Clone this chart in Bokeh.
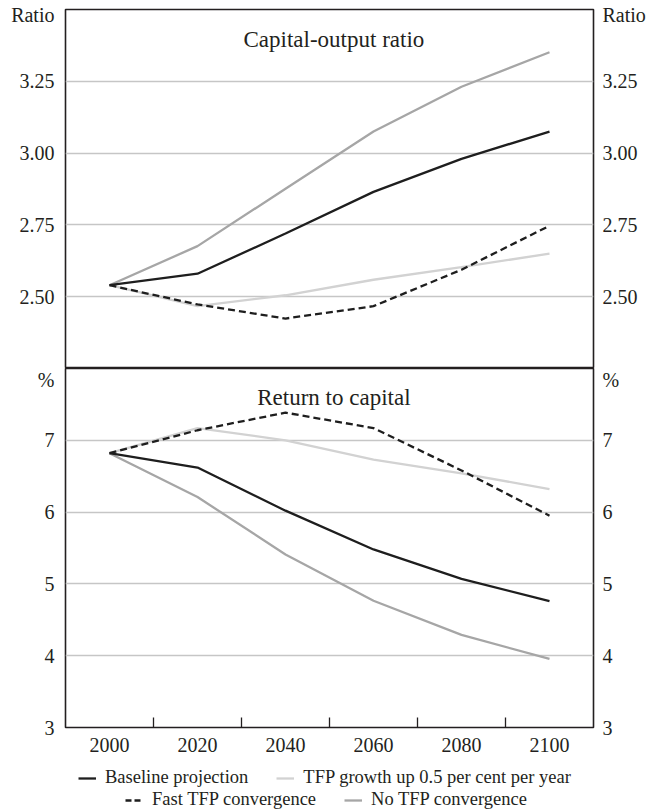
from bokeh.plotting import figure
from bokeh.models import (FixedTicker, Label, Legend, LegendItem, LinearAxis,
                          Range1d, Grid, NumeralTickFormatter)
from bokeh.layouts import column
from bokeh.embed import file_html
from bokeh.resources import INLINE

# ---------------- data ----------------
years = [2000, 2020, 2040, 2060, 2080, 2100]
x_tick_labels = [2000, 2020, 2040, 2060, 2080, 2100]

cap_baseline = [2.54, 2.58, 2.72, 2.865, 2.98, 3.075]
cap_tfp_up = [2.54, 2.467, 2.505, 2.559, 2.603, 2.65]
cap_fast = [2.54, 2.473, 2.424, 2.467, 2.594, 2.747]
cap_no_tfp = [2.54, 2.676, 2.876, 3.075, 3.231, 3.351]

ret_baseline = [6.82, 6.62, 6.02, 5.48, 5.07, 4.76]
ret_tfp_up = [6.82, 7.17, 7.0, 6.73, 6.54, 6.32]
ret_fast = [6.82, 7.14, 7.385, 7.17, 6.58, 5.95]
ret_no_tfp = [6.82, 6.21, 5.41, 4.765, 4.29, 3.955]

cap_ticks = [2.50, 2.75, 3.00, 3.25]
ret_ticks = [3, 4, 5, 6, 7]

series_names = ["Baseline projection", "TFP growth up 0.5 per cent per year",
                "Fast TFP convergence", "No TFP convergence"]

# ---------------- style ----------------
FONT = "Liberation Serif"
INK = "#231f20"
C_BASE = "#1e1e1e"
C_UP = "#d2d2d2"
C_NO = "#a6a6a6"
GRID = "#c6c6c6"
LW = 2.3
DASH = "7 4"

CAP_UNIT_POS = 3.481
RET_UNIT_POS = 7.90


def style_yaxis(ax):
    ax.major_tick_in = 0
    ax.major_tick_out = 0
    ax.minor_tick_in = 0
    ax.minor_tick_out = 0
    ax.axis_line_color = None
    ax.major_label_text_font = FONT
    ax.major_label_text_font_size = "20px"
    ax.major_label_text_color = INK


def make_panel(y0, y1, ticks, unit, unit_pos, fmt, top_border, bottom_border):
    p = figure(frame_width=528, frame_height=359,
               x_range=Range1d(1990, 2110), y_range=Range1d(y0, y1),
               x_axis_location=None, y_axis_location=None,
               output_backend="svg", toolbar_location=None,
               min_border_left=65, min_border_right=52,
               min_border_top=top_border, min_border_bottom=bottom_border,
               background_fill_color="white", border_fill_color="white")
    p.outline_line_color = INK
    p.outline_line_width = 1.6
    p.outline_line_alpha = 1.0
    p.grid.visible = False
    overrides = {float(unit_pos): unit}
    for side, standoff in (("left", 11), ("right", 9)):
        ax = LinearAxis(ticker=FixedTicker(ticks=list(ticks) + [unit_pos]),
                        formatter=NumeralTickFormatter(format=fmt))
        ax.major_label_overrides = overrides
        ax.major_label_standoff = standoff
        style_yaxis(ax)
        p.add_layout(ax, side)
    g = Grid(dimension=1, ticker=FixedTicker(ticks=list(ticks)),
             grid_line_color=GRID, grid_line_width=1.6)
    p.add_layout(g)
    return p


# ---------------- top panel ----------------
p1 = make_panel(2.25, 3.5, cap_ticks, "Ratio", CAP_UNIT_POS, "0.00", 9, 0)
p1.line(years, cap_tfp_up, line_color=C_UP, line_width=LW)
p1.line(years, cap_no_tfp, line_color=C_NO, line_width=LW)
p1.line(years, cap_baseline, line_color=C_BASE, line_width=LW)
p1.line(years, cap_fast, line_color=C_BASE, line_width=LW, line_dash=DASH)
p1.add_layout(Label(x=2051, y=3.3945, text="Capital-output ratio",
                    text_align="center", text_baseline="alphabetic",
                    text_font=FONT, text_font_size="23px", text_color=INK))

# ---------------- bottom panel ----------------
p2 = make_panel(3, 8, ret_ticks, "%", RET_UNIT_POS, "0", 0, 31)
p2.line(years, ret_tfp_up, line_color=C_UP, line_width=LW)
p2.line(years, ret_no_tfp, line_color=C_NO, line_width=LW)
p2.line(years, ret_baseline, line_color=C_BASE, line_width=LW)
p2.line(years, ret_fast, line_color=C_BASE, line_width=LW, line_dash=DASH)
p2.add_layout(Label(x=2051, y=7.60, text="Return to capital",
                    text_align="center", text_baseline="alphabetic",
                    text_font=FONT, text_font_size="23px", text_color=INK))

xax = LinearAxis(ticker=FixedTicker(ticks=x_tick_labels,
                                    minor_ticks=[2010, 2030, 2050, 2070, 2090]))
xax.major_tick_in = 0
xax.major_tick_out = 0
xax.minor_tick_in = 10
xax.minor_tick_out = 0
xax.minor_tick_line_color = INK
xax.minor_tick_line_width = 1.3
xax.axis_line_color = None
xax.major_label_standoff = 10
xax.major_label_text_font = FONT
xax.major_label_text_font_size = "20px"
xax.major_label_text_color = INK
p2.add_layout(xax, "below")

# ---------------- legend strip ----------------
# The strip's ranges are far from the data, so its copies of the series stay
# outside its frame (clipped) and only serve as legend keys.
p3 = figure(frame_width=528, frame_height=52,
            x_range=Range1d(0, 1), y_range=Range1d(0, 1),
            x_axis_location=None, y_axis_location=None,
            output_backend="svg", toolbar_location=None,
            min_border_left=65, min_border_right=52,
            min_border_top=0, min_border_bottom=0,
            background_fill_color="white", border_fill_color="white")
p3.outline_line_color = None
p3.grid.visible = False
k_base = p3.line(years, ret_baseline, line_color=C_BASE, line_width=LW)
k_up = p3.line(years, ret_tfp_up, line_color=C_UP, line_width=LW)
k_fast = p3.line(years, ret_fast, line_color=C_BASE, line_width=LW + 0.3, line_dash="6 3")
k_no = p3.line(years, ret_no_tfp, line_color=C_NO, line_width=LW)


def make_legend(items, loc):
    return Legend(items=items, orientation="horizontal", location=loc,
                  border_line_color=None, background_fill_alpha=0,
                  label_text_font=FONT, label_text_font_size="18.5px",
                  label_text_color=INK, glyph_width=18, glyph_height=20,
                  label_height=20, label_standoff=9, spacing=28,
                  padding=0, margin=0)


leg1 = make_legend([LegendItem(label=series_names[0], renderers=[k_base]),
                    LegendItem(label=series_names[1], renderers=[k_up])], (13, 22))
leg2 = make_legend([LegendItem(label=series_names[2], renderers=[k_fast]),
                    LegendItem(label=series_names[3], renderers=[k_no])], (60, 0))
p3.add_layout(leg1)
p3.add_layout(leg2)

layout = column(p1, p2, p3, spacing=0)
open("out.html", "w").write(file_html(layout, INLINE))
